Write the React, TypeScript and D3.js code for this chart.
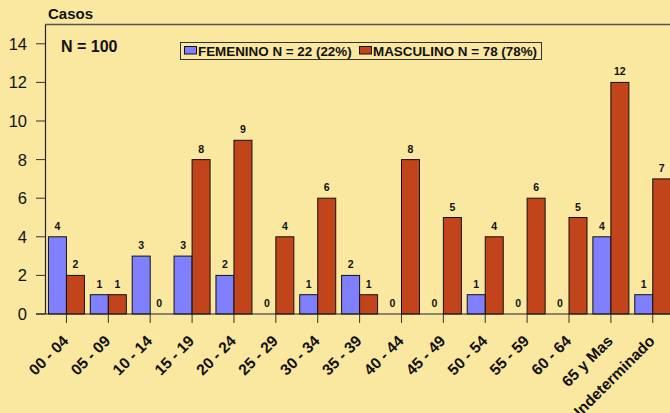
import React from "react";
import * as d3 from "d3";

const categories = ["00 - 04","05 - 09","10 - 14","15 - 19","20 - 24","25 - 29","30 - 34","35 - 39","40 - 44","45 - 49","50 - 54","55 - 59","60 - 64","65 y Mas","Indeterminado"];
const femenino = [4,1,3,3,2,0,1,2,0,0,1,0,0,4,1];
const masculino = [2,1,0,8,9,4,6,1,8,5,4,6,5,12,7];
const yTicks = [0,2,4,6,8,10,12,14];
const seriesNames = ["FEMENINO N = 22 (22%)", "MASCULINO N = 78 (78%)"];
const colors = ["#8080FF", "#C1441A"];

const W = 670, H = 413;
const FONT = "'Liberation Sans', Arial, sans-serif";

export default function App() {
  const left = 45.5, top = 24.5, bottom = 314;
  const bandW = 41.88;
  const x = d3.scaleBand<string>().domain(categories).range([left, left + bandW * categories.length]).padding(0);
  const y = d3.scaleLinear().domain([0, 15]).range([bottom, top]);
  const bw = x.bandwidth();
  const x1 = d3.scaleBand<string>().domain(["F", "M"]).range([bw / 2 - 18, bw / 2 + 18]).padding(0);
  const series = [femenino, masculino];
  const keys = ["F", "M"];

  return (
    <svg width={W} height={H} style={{ position: "absolute", left: 0, top: 0, display: "block" }} fontFamily={FONT}>
      <rect x={0} y={0} width={W} height={H} fill="#FAE7A0" />
      <text x={48} y={19} fontSize={15} fontWeight="bold" fill="#111">Casos</text>
      {/* frame */}
      <line x1={left} x2={W} y1={top} y2={top} stroke="#555" strokeWidth={1.5} />
      <line x1={left} x2={left} y1={top} y2={bottom} stroke="#222" strokeWidth={1.2} />
      {/* y ticks */}
      {yTicks.map(t => (
        <g key={t}>
          <line x1={36} x2={left} y1={y(t)} y2={y(t)} stroke="#333" strokeWidth={1} />
          <text x={27} y={y(t)} dy="0.36em" textAnchor="end" fontSize={16.5} fill="#111">{t}</text>
        </g>
      ))}
      {/* bars */}
      {categories.map((c, i) => (
        <g key={c} transform={`translate(${x(c)},0)`}>
          {series.map((s, k) => {
            const v = s[i];
            const bx = x1(keys[k])!;
            return (
              <g key={k}>
                <rect x={bx} y={y(v)} width={x1.bandwidth()} height={bottom - y(v)} fill={colors[k]} stroke="#111" strokeWidth={1} />
                <text x={bx + x1.bandwidth() / 2} y={y(v) - 7} textAnchor="middle" fontSize={10.5} fontWeight="bold" fill="#111">{v}</text>
              </g>
            );
          })}
        </g>
      ))}
      {/* x axis */}
      <line x1={36} x2={W} y1={bottom} y2={bottom} stroke="#222" strokeWidth={1.2} />
      {categories.map(c => {
        const cx = x(c)! + bw / 2;
        return (
          <g key={c}>
            <line x1={cx} x2={cx} y1={bottom} y2={bottom + 9} stroke="#333" strokeWidth={1} />
            <text transform={`translate(${cx + 3},${bottom + 28}) rotate(-45)`} textAnchor="end" fontSize={15.5} fontWeight="bold" fill="#111">{c}</text>
          </g>
        );
      })}
      <text x={61} y={52} fontSize={16} fontWeight="bold" fill="#111">N = 100</text>
      {/* legend */}
      <rect x={180.5} y={42.5} width={361} height={17} fill="none" stroke="#333" strokeWidth={1} />
      {seriesNames.map((n, k) => {
        const lx = k === 0 ? 184 : 359;
        return (
          <g key={n}>
            <rect x={lx + 0.5} y={46.5} width={12} height={7.5} fill={colors[k]} stroke="#111" strokeWidth={1} />
            <text x={lx + 14} y={55.5} fontSize={13.4} fontWeight="bold" fill="#111">{n}</text>
          </g>
        );
      })}
    </svg>
  );
}
